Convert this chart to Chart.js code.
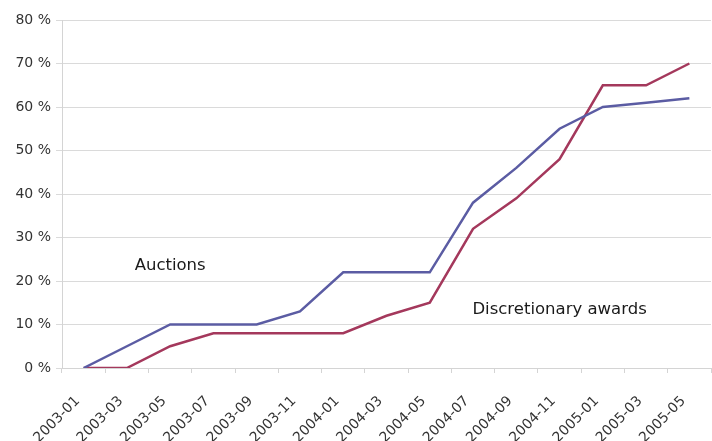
<!DOCTYPE html>
<html>
<head>
<meta charset="utf-8">
<script src="https://cdn.jsdelivr.net/npm/chart.js@4/dist/chart.umd.min.js"></script>
<style>
  html, body { margin: 0; padding: 0; background: #fff; }
  #wrap { width: 712px; height: 441px; overflow: hidden; }
</style>
</head>
<body>
<div id="wrap"><canvas id="progress" width="712" height="441"></canvas></div>
<script>
// bi-monthly categories and cumulative share of spectrum assigned (%)
const months = ['2003-01', '2003-03', '2003-05', '2003-07', '2003-09', '2003-11', '2004-01', '2004-03',
                '2004-05', '2004-07', '2004-09', '2004-11', '2005-01', '2005-03', '2005-05'];
const auctions = [0, 5, 10, 10, 10, 13, 22, 22, 22, 38, 46, 55, 60, 61, 62];
const discretionary = [0, 0, 5, 8, 8, 8, 8, 12, 15, 32, 39, 48, 65, 65, 70];
const yTicks = [0, 10, 20, 30, 40, 50, 60, 70, 80];

// in-plot series names: [text, category index, value]
const seriesLabels = [
    ['Auctions', 2, 23.5],
    ['Discretionary awards', 11, 13.5]
];

const FONT = '"DejaVu Sans", sans-serif';

const inlineLabels = {
    id: 'inlineLabels',
    afterDatasetsDraw(chart) {
        const { ctx, scales } = chart;
        ctx.save();
        ctx.font = '16.5px ' + FONT;
        ctx.fillStyle = '#1a1a1a';
        ctx.textAlign = 'center';
        ctx.textBaseline = 'middle';
        seriesLabels.forEach(([txt, i, v]) => {
            ctx.fillText(txt, scales.x.getPixelForValue(i), scales.y.getPixelForValue(v));
        });
        ctx.restore();
    }
};

const whiteBg = {
    id: 'whiteBg',
    beforeDraw(chart) {
        const ctx = chart.ctx;
        ctx.save();
        ctx.fillStyle = '#fff';
        ctx.fillRect(0, 0, chart.width, chart.height);
        ctx.restore();
    }
};

new Chart(document.getElementById('progress'), {
    type: 'line',
    data: {
        labels: months,
        datasets: [
            { label: 'Auctions', data: auctions, borderColor: '#5b5ca3', borderWidth: 2.5 },
            { label: 'Discretionary awards', data: discretionary, borderColor: '#a4385c', borderWidth: 2.5 }
        ]
    },
    options: {
        responsive: false,
        animation: false,
        layout: { padding: { top: 20, right: 1, left: 0, bottom: 0 } },
        elements: { point: { radius: 0 }, line: { tension: 0 } },
        plugins: { legend: { display: false }, tooltip: { enabled: false } },
        scales: {
            x: {
                offset: true,
                grid: { offset: true, drawOnChartArea: false, tickLength: 5, color: '#d4d4d4' },
                border: { color: '#d4d4d4' },
                ticks: {
                    minRotation: 45, maxRotation: 45, autoSkip: false, padding: 20, labelOffset: -6,
                    color: '#333', font: { family: FONT, size: 14 }
                },
                afterFit(axis) {
                    axis.height = 73;
                    // rotated labels stay inside the plot width, no side padding needed
                    axis.paddingLeft = 0;
                    axis.paddingRight = 0;
                }
            },
            y: {
                min: 0, max: 80,
                afterBuildTicks(axis) { axis.ticks = yTicks.map(v => ({ value: v })); },
                grid: { color: '#dadada', tickLength: 6 },
                border: { color: '#d4d4d4' },
                ticks: {
                    padding: 5, color: '#333', font: { family: FONT, size: 14 },
                    callback: v => v + ' %'
                },
                afterFit(axis) { axis.width = 62; }
            }
        }
    },
    plugins: [whiteBg, inlineLabels]
});
</script>
</body>
</html>
